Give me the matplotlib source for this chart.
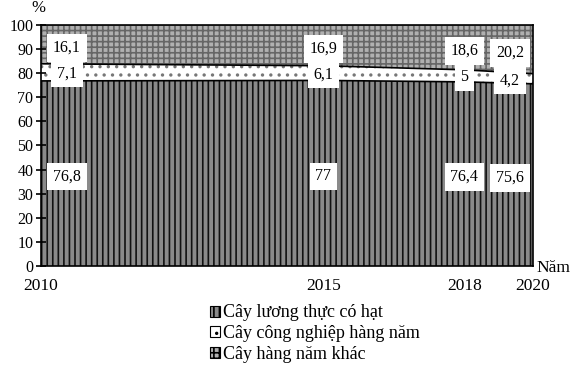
import numpy as np
import matplotlib
matplotlib.use("Agg")
import matplotlib.pyplot as plt
from matplotlib.patches import Patch

# --- data ---
years = [2010, 2015, 2018, 2020]
grain = [76.8, 77.0, 76.4, 75.6]        # Cây lương thực có hạt
industrial = [7.1, 6.1, 5.0, 4.2]       # Cây công nghiệp hàng năm
other = [16.1, 16.9, 18.6, 20.2]        # Cây hàng năm khác
series_names = ["Cây lương thực có hạt", "Cây công nghiệp hàng năm", "Cây hàng năm khác"]

# the original axis is not to scale: map each year to where it sits on the drawing
axis_pos = [0.0, 0.574, 0.86, 1.0]
def fwd(x):
    return np.interp(x, years, axis_pos)
def inv(x):
    return np.interp(x, axis_pos, years)

def fmt(v):
    s = ("%.1f" % v).replace(".", ",")
    return s[:-2] if s.endswith(",0") else s

plt.rcParams["font.family"] = ["Liberation Serif", "DejaVu Serif"]
plt.rcParams["hatch.linewidth"] = 1.2

fig = plt.figure(figsize=(5.84, 3.67), dpi=100)
ax = fig.add_axes([0.0702, 0.2752, 0.8425, 0.6567])
ax.set_xscale("function", functions=(fwd, inv))

styles = [
    dict(facecolor="#8a8a8a", edgecolor="#111111", hatch="|||"),
    dict(facecolor="white", edgecolor="#777777", hatch=".."),
    dict(facecolor="#b0b0b0", edgecolor="#666666", hatch="+++"),
]
polys = ax.stackplot(years, grain, industrial, other, colors=["w", "w", "w"])
for p, st in zip(polys, styles):
    p.set_facecolor(st["facecolor"])
    p.set_edgecolor(st["edgecolor"])
    p.set_hatch(st["hatch"])
    p.set_linewidth(0)

# boundary lines
b1 = np.array(grain)
b2 = b1 + np.array(industrial)
ax.plot(years, b1, color="black", lw=1.2)
ax.plot(years, b2, color="black", lw=1.2)

ax.set_xlim(2010, 2020)
ax.set_ylim(0, 100)
ax.set_yticks(range(0, 101, 10))
ax.set_xticks(years)
ax.set_xticklabels([str(y) for y in years])
ax.tick_params(axis="y", direction="inout", length=7, width=1.2, labelsize=11.5, pad=2)
ax.tick_params(axis="x", length=0, labelsize=12.5, pad=8.5)
for s in ax.spines.values():
    s.set_linewidth(1.2)

# value labels in white boxes
x_shift = [26, 0, 0, -23]
box = dict(boxstyle="square,pad=0.35", facecolor="white", edgecolor="none")
for i, yr in enumerate(years):
    mids = [grain[i] / 2 - 1.3,
            grain[i] + industrial[i] / 2 - 0.6,
            grain[i] + industrial[i] + other[i] / 2 - 1.5]
    vals = [grain[i], industrial[i], other[i]]
    for v, m in zip(vals, mids):
        ax.annotate(fmt(v), (yr, m), xytext=(x_shift[i], 0), textcoords="offset pixels",
                    ha="center", va="center", fontsize=11.5, bbox=box)

fig.text(0.065, 0.978, "%", fontsize=12, ha="center", va="center")
fig.text(0.918, 0.27, "Năm", fontsize=12.5, ha="left", va="center")

handles = [Patch(facecolor=st["facecolor"], edgecolor="black", hatch=st["hatch"],
                 linewidth=0.8) for st in styles]
fig.legend(handles, series_names, loc="upper left", bbox_to_anchor=(0.344, 0.195),
           frameon=False, fontsize=13, handlelength=0.55, handleheight=0.55,
           handletextpad=0.15, labelspacing=0.2, borderpad=0)

fig.savefig("out.png", dpi=100)
